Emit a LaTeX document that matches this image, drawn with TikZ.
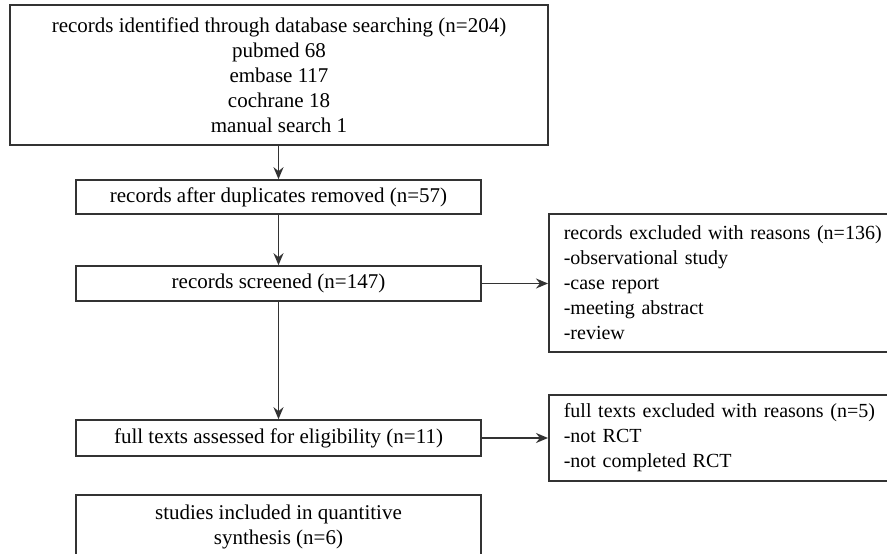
\documentclass[tikz,border=0pt]{standalone}
\usepackage{fontspec}
\setmainfont{Liberation Serif}
\usetikzlibrary{arrows.meta}
\begin{document}
\begin{tikzpicture}[x=1pt,y=1pt,
  box/.style={draw=black!80, line width=1.6pt, fill=white, inner sep=0pt,
    font=\fontsize{21}{25}\selectfont, align=center},
  rbox/.style={box, align=left, anchor=west, font=\fontsize{20}{25}\selectfont},
  arr/.style={draw=black!80, line width=1.6pt, -{Stealth[length=12pt,width=10pt]}}]
\useasboundingbox (0,0) rectangle (887,-554);
\clip (0,0) rectangle (887,-554);
\fill[white] (0,0) rectangle (887,-554);
\node[box, minimum width=538, minimum height=140] (b1) at (279,-75)
  {records identified through database searching (n=204)\\pubmed 68\\embase 117\\cochrane 18\\manual search 1};
\node[box, minimum width=405, minimum height=34] (b2) at (278.5,-197)
  {records after duplicates removed (n=57)};
\node[box, minimum width=405, minimum height=35] (b3) at (278.5,-283.5)
  {records screened (n=147)};
\node[box, minimum width=405, minimum height=36] (b4) at (278.5,-438)
  {full texts assessed for eligibility (n=11)};
\node[box, minimum width=405, minimum height=64, anchor=north] (b5) at (278.5,-494)
  {studies included in quantitive\\synthesis (n=6)};
\node[rbox, minimum width=460, minimum height=138, text width=430, inner xsep=13pt] (r1) at (548,-283)
  {records excluded with reasons (n=136)\\-observational study\\-case report\\-meeting abstract\\-review};
\node[rbox, minimum width=460, minimum height=86, text width=430, inner xsep=13pt] (r2) at (548,-438)
  {full texts excluded with reasons (n=5)\\-not RCT\\-not completed RCT};
\draw[arr] (b1.south -| b2) -- (b2.north);
\draw[arr] (b2.south) -- (b3.north);
\draw[arr] (b3.south) -- (b4.north);
\draw[arr] (b3.east) -- (b3.east -| r1.west);
\draw[arr] (b4.east) -- (b4.east -| r2.west);
\end{tikzpicture}
\end{document}
